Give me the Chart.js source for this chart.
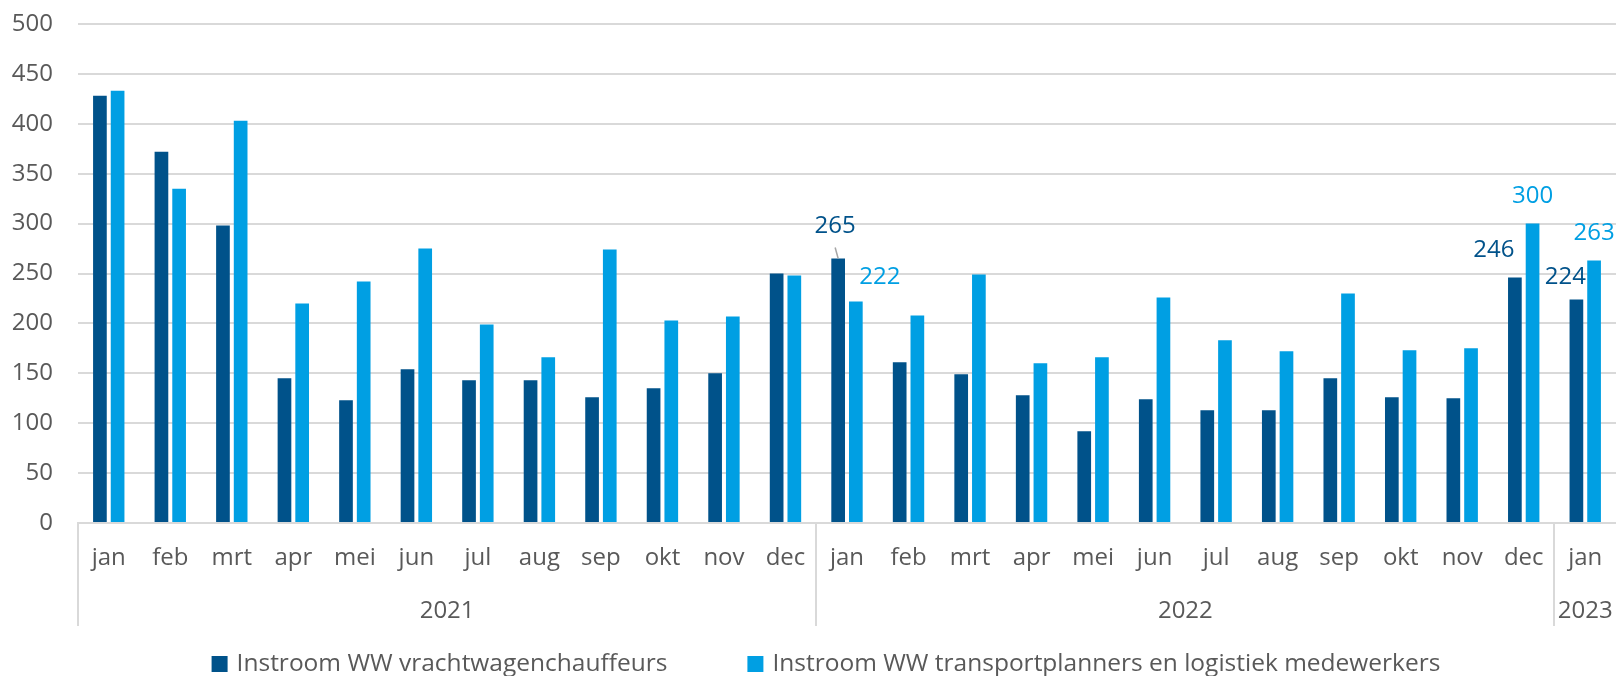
<!DOCTYPE html>
<html>
<head>
<meta charset="utf-8">
<script src="https://cdn.jsdelivr.net/npm/chart.js@4.4.1/dist/chart.umd.min.js"></script>
<style>
  html, body { margin: 0; padding: 0; background: #fff; }
  #wrap { width: 1616px; height: 676px; }
</style>
</head>
<body>
<div id="wrap"><canvas id="chart"></canvas></div>
<script>
const months = ['jan', 'feb', 'mrt', 'apr', 'mei', 'jun', 'jul', 'aug', 'sep', 'okt', 'nov', 'dec',
  'jan', 'feb', 'mrt', 'apr', 'mei', 'jun', 'jul', 'aug', 'sep', 'okt', 'nov', 'dec',
  'jan'];
const years = ['2021', '2022', '2023'];
const monthsInYear = [12, 12, 1];
const chauffeurs = [428, 372, 298, 145, 123, 154, 143, 143, 126, 135, 150, 250,
  265, 161, 149, 128, 92, 124, 113, 113, 145, 126, 125, 246,
  224];
const planners = [433, 335, 403, 220, 242, 275, 199, 166, 274, 203, 207, 248,
  222, 208, 249, 160, 166, 226, 183, 172, 230, 173, 175, 300,
  263];
const yTicks = [0, 50, 100, 150, 200, 250, 300, 350, 400, 450, 500];

const DARK = '#00528a';
const LIGHT = '#009fe3';
const TEXT = '#595959';
const GRID = '#d9d9d9';
const FONT = '"Open Sans", sans-serif';

// which bars get a value label, and where Excel had dragged them
const labelSpots = [
  [ { index: 12, dx: -3, dy: -32, leader: true }, { index: 23, dx: -21, dy: -27 }, { index: 24, dx: -11, dy: -22 } ],
  [ { index: 12, dx: 24, dy: -24 }, { index: 23, dx: 0, dy: -27 }, { index: 24, dx: 0, dy: -27 } ]
];

const valueLabels = {
  id: 'valueLabels',
  afterDatasetsDraw(chart) {
    const ctx = chart.ctx;
    ctx.save();
    ctx.font = '24px ' + FONT;
    ctx.textAlign = 'center';
    ctx.textBaseline = 'middle';
    chart.data.datasets.forEach((ds, di) => {
      const meta = chart.getDatasetMeta(di);
      labelSpots[di].forEach(spot => {
        const bar = meta.data[spot.index];
        const x = bar.x + spot.dx, y = bar.y + spot.dy;
        if (spot.leader) {
          ctx.strokeStyle = '#a6a6a6';
          ctx.lineWidth = 1.5;
          ctx.beginPath();
          ctx.moveTo(x, y + 21);
          ctx.lineTo(bar.x, bar.y);
          ctx.stroke();
        }
        ctx.fillStyle = ds.backgroundColor;
        ctx.fillText(String(ds.data[spot.index]), x, y);
      });
    });
    ctx.restore();
  }
};

// second row of the category axis: years with separators
const yearAxis = {
  id: 'yearAxis',
  afterDraw(chart) {
    const xs = chart.scales.x, area = chart.chartArea, ctx = chart.ctx;
    const step = xs.width / months.length;
    let start = 0;
    ctx.save();
    ctx.strokeStyle = GRID;
    ctx.lineWidth = 2;
    ctx.font = '24px ' + FONT;
    ctx.fillStyle = TEXT;
    ctx.textAlign = 'center';
    ctx.textBaseline = 'middle';
    years.forEach((yr, i) => {
      const left = xs.getPixelForValue(start) - step / 2;
      const right = xs.getPixelForValue(start + monthsInYear[i] - 1) + step / 2;
      ctx.beginPath();
      ctx.moveTo(Math.round(left), area.bottom);
      ctx.lineTo(Math.round(left), area.bottom + 103);
      ctx.stroke();
      ctx.fillText(yr, (left + right) / 2, area.bottom + 88);
      start += monthsInYear[i];
    });
    ctx.restore();
  }
};

// Excel style legend row under the axis
const bottomLegend = {
  id: 'bottomLegend',
  afterDraw(chart) {
    const ctx = chart.ctx;
    const items = chart.data.datasets;
    ctx.save();
    ctx.font = '24.5px ' + FONT;
    ctx.textBaseline = 'middle';
    ctx.textAlign = 'left';
    const widths = items.map(ds => ctx.measureText(ds.label).width);
    const total = widths.reduce((a, w) => a + 25 + w, 0) + 80 * (items.length - 1);
    let x = 826 - total / 2;
    const y = 664;
    items.forEach((ds, i) => {
      ctx.fillStyle = ds.backgroundColor;
      ctx.fillRect(x, y - 8, 16, 16);
      ctx.fillStyle = TEXT;
      ctx.fillText(ds.label, x + 25, y);
      x += 25 + widths[i] + 80;
    });
    ctx.restore();
  }
};

new Chart(document.getElementById('chart'), {
  type: 'bar',
  data: {
    labels: months,
    datasets: [
      { label: 'Instroom WW vrachtwagenchauffeurs', data: chauffeurs, backgroundColor: DARK },
      { label: 'Instroom WW transportplanners en logistiek medewerkers', data: planners, backgroundColor: LIGHT }
    ]
  },
  options: {
    responsive: true,
    maintainAspectRatio: false,
    animation: false,
    categoryPercentage: 0.575,
    barPercentage: 0.774,
    layout: { padding: { left: 12, top: 24, right: 0, bottom: 0 } },
    plugins: {
      tooltip: { enabled: false },
      legend: { display: false }
    },
    scales: {
      x: {
        grid: { display: false },
        border: { display: true, color: GRID, width: 2 },
        ticks: { color: TEXT, font: { family: FONT, size: 24 }, padding: 13, autoSkip: false, maxRotation: 0 },
        afterFit(scale) { scale.height = 153; }
      },
      y: {
        min: 0,
        max: 500,
        afterBuildTicks(scale) { scale.ticks = yTicks.map(v => ({ value: v })); },
        afterFit(scale) {
          scale.width = 66;
          scale.paddingTop = 0;
          scale.paddingBottom = 0;
        },
        grid: { color: GRID, lineWidth: 2, drawTicks: false },
        border: { display: false },
        ticks: { color: TEXT, font: { family: FONT, size: 24 }, padding: 25 }
      }
    }
  },
  plugins: [valueLabels, yearAxis, bottomLegend]
});
</script>
</body>
</html>
